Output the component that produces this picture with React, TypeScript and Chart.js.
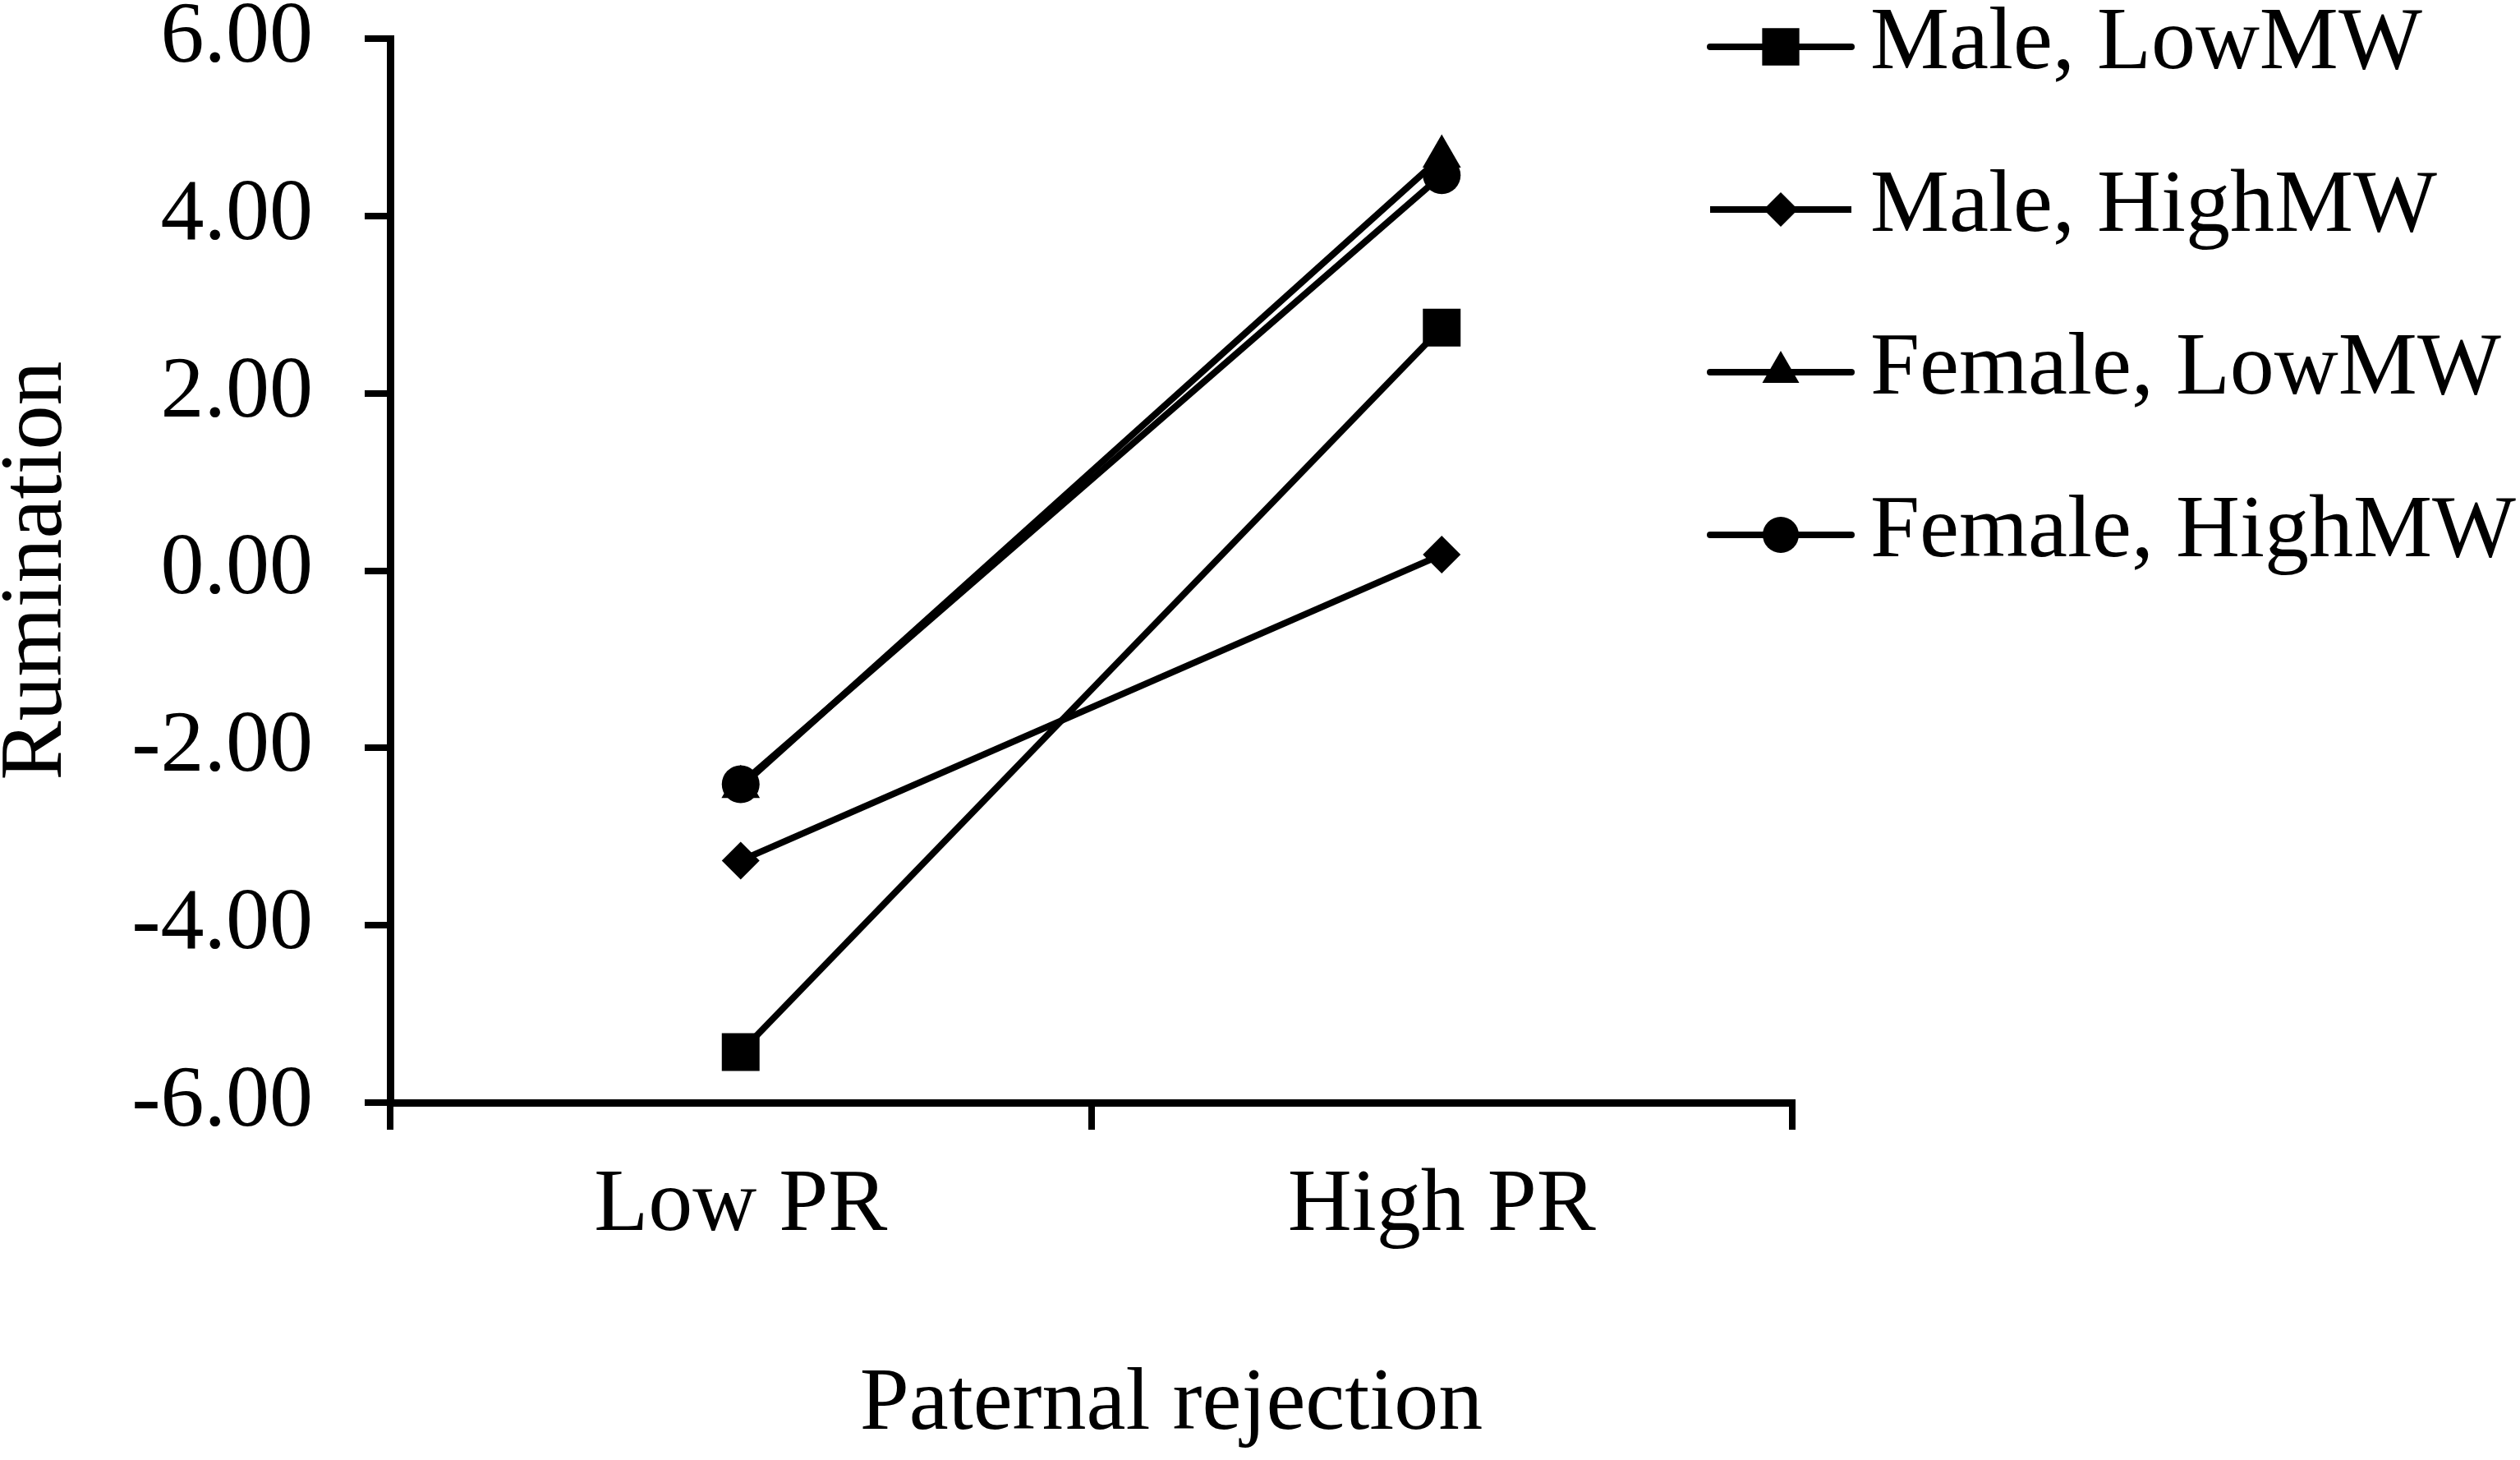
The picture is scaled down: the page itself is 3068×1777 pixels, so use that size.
import React, { useEffect, useRef } from 'react';
import { Chart, registerables } from 'chart.js';

Chart.register(...registerables);

// ---- data ----
const categories = ['Low PR', 'High PR'];
const seriesLabels = ['Male, LowMW', 'Male, HighMW', 'Female, LowMW', 'Female, HighMW'];
const maleLowMW = [-5.43, 2.74];
const maleHighMW = [-3.27, 0.18];
const femaleLowMW = [-2.44, 4.67];
const femaleHighMW = [-2.41, 4.46];
const yTicks = [-6, -4, -2, 0, 2, 4, 6];
const xTitle = 'Paternal rejection';
const yTitle = 'Rumination';

const FONT = '"Liberation Serif", "Times New Roman", serif';
const W = 3068;
const H = 1777;

function drawMarker(ctx: CanvasRenderingContext2D, style: string, x: number, y: number, r: number) {
  ctx.beginPath();
  if (style === 'rect') {
    const s = r * Math.SQRT1_2;
    ctx.rect(x - s, y - s, 2 * s, 2 * s);
  } else if (style === 'rectRot') {
    ctx.moveTo(x - r, y);
    ctx.lineTo(x, y - r);
    ctx.lineTo(x + r, y);
    ctx.lineTo(x, y + r);
    ctx.closePath();
  } else if (style === 'triangle') {
    const hw = r * Math.sin((2 * Math.PI) / 3);
    ctx.moveTo(x, y - r);
    ctx.lineTo(x + hw, y + r / 2);
    ctx.lineTo(x - hw, y + r / 2);
    ctx.closePath();
  } else {
    ctx.arc(x, y, r, 0, Math.PI * 2);
  }
  ctx.fillStyle = '#000';
  ctx.fill();
}

const legendCaps: CanvasLineCap[] = ['round', 'butt', 'round', 'round'];

const lineMarkerLegend = {
  id: 'lineMarkerLegend',
  afterDraw(chart: any) {
    const ctx: CanvasRenderingContext2D = chart.ctx;
    const x0 = 2078;
    const lineW = 180;
    const y0 = 57;
    const gap = 198;
    chart.data.datasets.forEach((ds: any, i: number) => {
      const y = y0 + i * gap;
      ctx.save();
      ctx.strokeStyle = '#000';
      ctx.lineWidth = 8;
      ctx.lineCap = legendCaps[i];
      ctx.beginPath();
      ctx.moveTo(x0 + 4, y);
      ctx.lineTo(x0 + lineW - 4, y);
      ctx.stroke();
      drawMarker(ctx, ds.pointStyle, x0 + lineW / 2, y, ds.legendRadius);
      ctx.font = `108px ${FONT}`;
      ctx.textBaseline = 'middle';
      ctx.textAlign = 'left';
      ctx.fillStyle = '#000';
      ctx.fillText(ds.label, 2277, y - 2);
      ctx.restore();
    });
  },
};

const xTitlePlugin = {
  id: 'xTitlePlugin',
  afterDraw(chart: any) {
    const ctx: CanvasRenderingContext2D = chart.ctx;
    ctx.save();
    ctx.font = `108px ${FONT}`;
    ctx.textAlign = 'center';
    ctx.textBaseline = 'middle';
    ctx.fillStyle = '#000';
    ctx.fillText(xTitle, 1426, 1711);
    ctx.restore();
  },
};

export default function App() {
  const canvasRef = useRef<HTMLCanvasElement | null>(null);

  useEffect(() => {
    document.body.style.margin = '0';
    const canvas = canvasRef.current;
    if (!canvas) return;

    const series = [maleLowMW, maleHighMW, femaleLowMW, femaleHighMW];
    const styles = ['rect', 'rectRot', 'triangle', 'circle'];
    const radii = [32.5, 23, 27, 23];
    const legendRadii = [32, 21, 26, 22];
    const orders = [1, 1, 1, 0];

    const chart = new Chart(canvas, {
      type: 'line',
      data: {
        labels: categories,
        datasets: series.map((data, i) => ({
          label: seriesLabels[i],
          data,
          borderColor: '#000',
          backgroundColor: '#000',
          borderWidth: 8,
          pointStyle: styles[i],
          pointRadius: radii[i],
          pointBorderWidth: 0,
          pointBackgroundColor: '#000',
          tension: 0,
          clip: false,
          order: orders[i],
          legendRadius: legendRadii[i],
        })) as any,
      },
      options: {
        responsive: false,
        devicePixelRatio: 1,
        animation: false,
        events: [],
        layout: { padding: { top: 47, right: 886, bottom: 0, left: 0 } },
        plugins: {
          legend: { display: false },
          tooltip: { enabled: false },
          title: { display: false },
        },
        scales: {
          x: {
            type: 'category',
            offset: true,
            grid: {
              display: true,
              offset: true,
              drawOnChartArea: false,
              drawTicks: true,
              tickLength: 33,
              lineWidth: 8,
              color: '#000',
            },
            border: { display: true, color: '#000', width: 9 },
            ticks: {
              color: '#000',
              padding: 29,
              font: { family: FONT, size: 108 },
              maxRotation: 0,
              autoSkip: false,
            },
            afterFit: (scale: any) => {
              scale.height = 435;
              scale.paddingLeft = 0;
              scale.paddingRight = 0;
            },
          },
          y: {
            min: yTicks[0],
            max: yTicks[yTicks.length - 1],
            afterBuildTicks: (scale: any) => {
              scale.ticks = yTicks.map((v) => ({ value: v }));
            },
            grid: {
              display: true,
              drawOnChartArea: false,
              drawTicks: true,
              tickLength: 31,
              lineWidth: 8,
              color: '#000',
            },
            border: { display: true, color: '#000', width: 9 },
            ticks: {
              color: '#000',
              padding: 63,
              font: { family: FONT, size: 106, lineHeight: 0.8 },
              callback: (v: any) => Number(v).toFixed(2),
            },
            title: {
              display: true,
              text: yTitle,
              color: '#000',
              padding: 0,
              font: { family: FONT, size: 108, lineHeight: 0.852 },
            },
            afterFit: (scale: any) => {
              scale.width = 475;
              scale.paddingTop = 0;
              scale.paddingBottom = 0;
            },
          },
        },
      } as any,
      plugins: [lineMarkerLegend, xTitlePlugin],
    });

    return () => {
      chart.destroy();
    };
  }, []);

  return (
    <div style={{ width: W, height: H, background: '#fff' }}>
      <canvas ref={canvasRef} width={W} height={H} style={{ display: 'block', width: W, height: H }} />
    </div>
  );
}
